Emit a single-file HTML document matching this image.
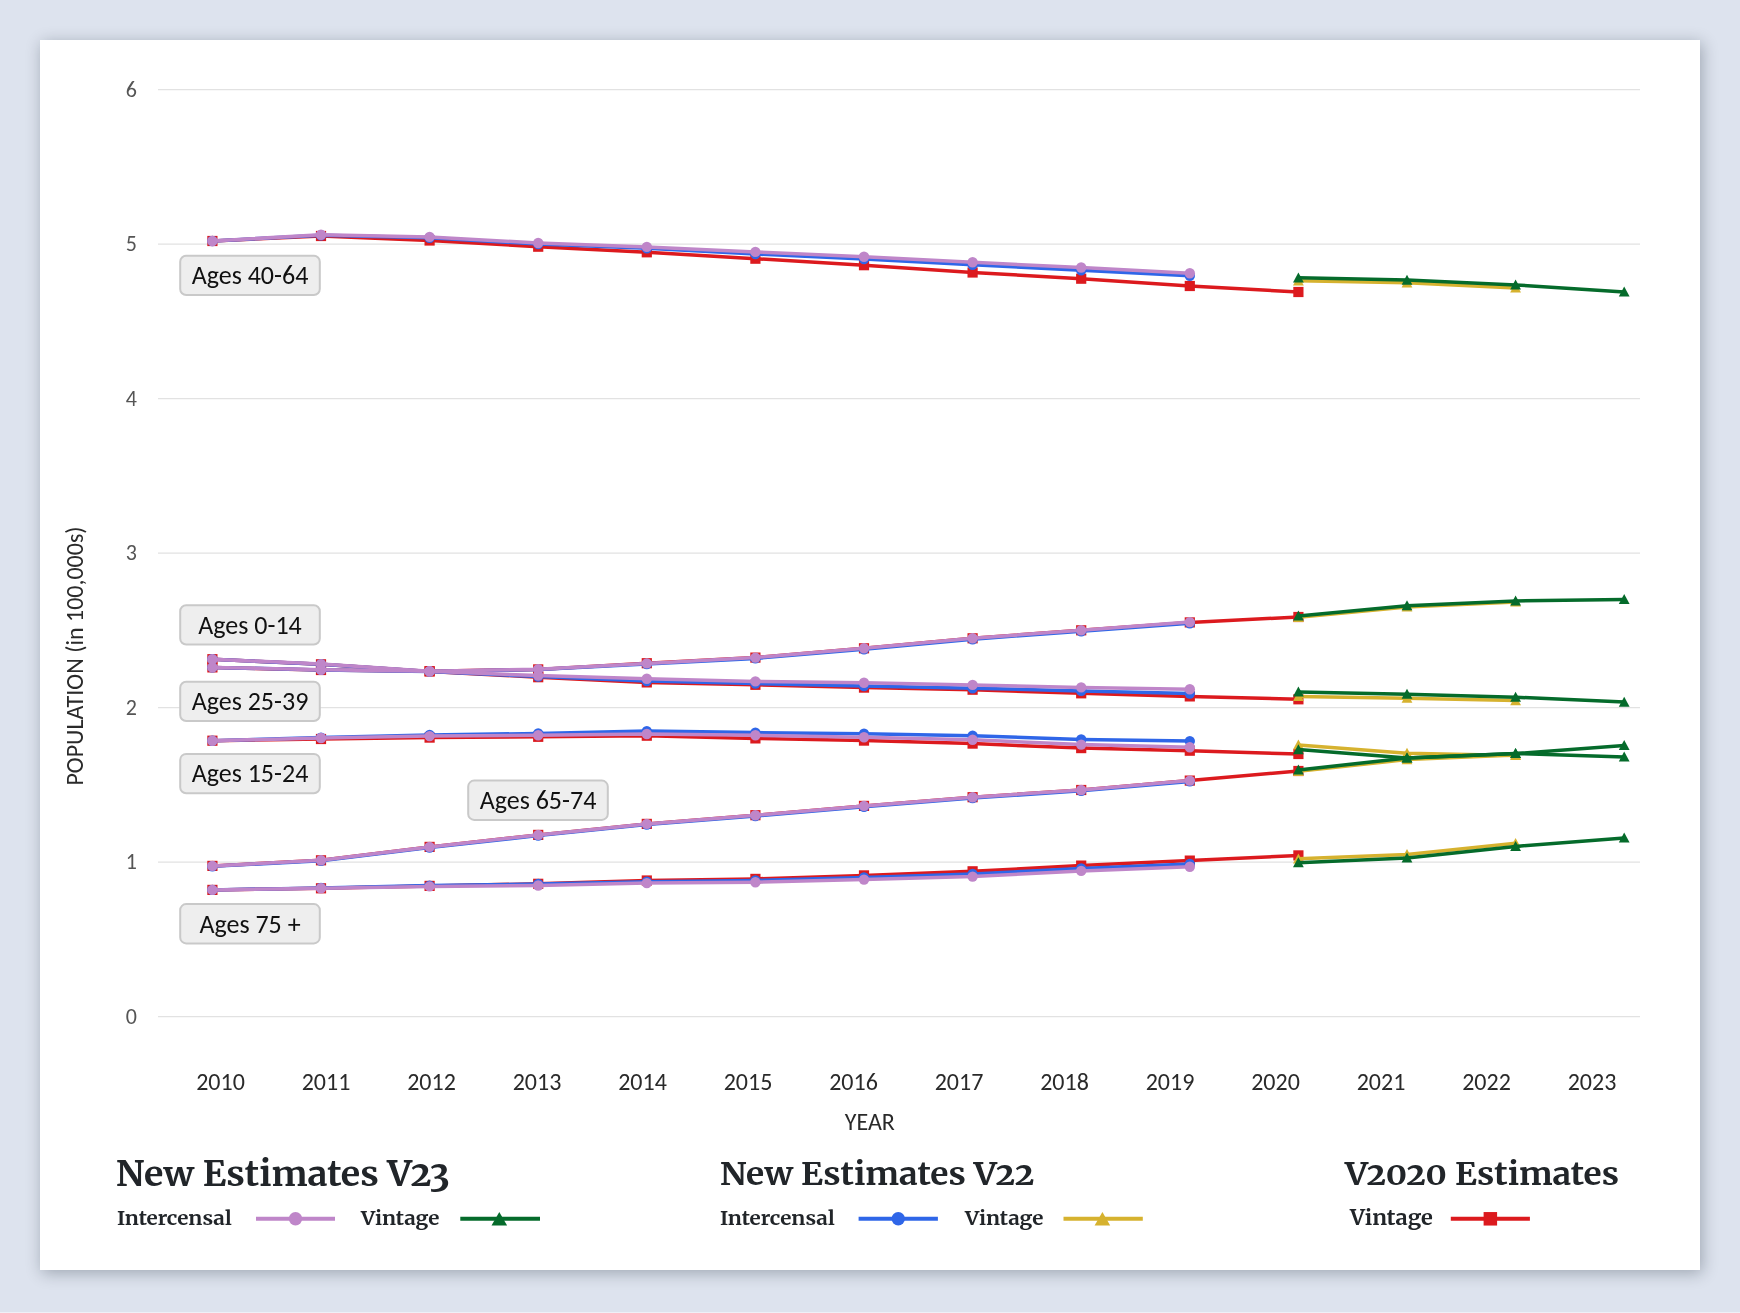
<!DOCTYPE html>
<html><head><meta charset="utf-8"><title>Population estimates by age group</title>
<style>
html,body{margin:0;padding:0}
body{width:1740px;height:1313px;background:#dde3ee;position:relative;overflow:hidden}
.card{position:absolute;left:40px;top:40px;width:1660px;height:1230px;background:#fff;box-shadow:2px 3px 15px rgba(11,22,38,.3)}
svg{position:absolute;left:0;top:0;will-change:transform}
.yt{font-family:Carlito,"Liberation Sans",sans-serif;font-size:22px;fill:#555}
.xt{font-family:Carlito,"Liberation Sans",sans-serif;font-size:24px;fill:#2a2a2a}
.lb{font-family:Carlito,"Liberation Sans",sans-serif;font-size:26px;fill:#111}
.h{position:absolute;margin:0;font-family:Merriweather,"Liberation Serif",serif;font-weight:700;color:#212529;white-space:nowrap;font-variant-numeric:oldstyle-nums;transform-origin:0 0;line-height:1;will-change:transform}
.li{position:absolute;margin:0;font-family:Merriweather,"Liberation Serif",serif;font-weight:700;color:#212529;white-space:nowrap;font-size:19.5px;transform-origin:0 0;transform:scaleX(1.058);line-height:1;will-change:transform}
</style></head>
<body>
<div class="card"></div>
<div style="position:absolute;left:0;top:1312px;width:1740px;height:1px;background:#eef0f7"></div>
<svg width="1740" height="1313" viewBox="0 0 1740 1313">
<line x1="158" x2="1640" y1="1016.55" y2="1016.55" stroke="#e2e2e2" stroke-width="1.2"/>
<text x="137" y="1023.85" text-anchor="end" class="yt">0</text>
<line x1="158" x2="1640" y1="862.06" y2="862.06" stroke="#e2e2e2" stroke-width="1.2"/>
<text x="137" y="869.36" text-anchor="end" class="yt">1</text>
<line x1="158" x2="1640" y1="707.57" y2="707.57" stroke="#e2e2e2" stroke-width="1.2"/>
<text x="137" y="714.87" text-anchor="end" class="yt">2</text>
<line x1="158" x2="1640" y1="553.08" y2="553.08" stroke="#e2e2e2" stroke-width="1.2"/>
<text x="137" y="560.38" text-anchor="end" class="yt">3</text>
<line x1="158" x2="1640" y1="398.59" y2="398.59" stroke="#e2e2e2" stroke-width="1.2"/>
<text x="137" y="405.89" text-anchor="end" class="yt">4</text>
<line x1="158" x2="1640" y1="244.1" y2="244.1" stroke="#e2e2e2" stroke-width="1.2"/>
<text x="137" y="251.4" text-anchor="end" class="yt">5</text>
<line x1="158" x2="1640" y1="89.61" y2="89.61" stroke="#e2e2e2" stroke-width="1.2"/>
<text x="137" y="96.91" text-anchor="end" class="yt">6</text>
<text x="220.5" y="1089.8" text-anchor="middle" class="xt">2010</text>
<text x="326" y="1089.8" text-anchor="middle" class="xt">2011</text>
<text x="431.5" y="1089.8" text-anchor="middle" class="xt">2012</text>
<text x="537" y="1089.8" text-anchor="middle" class="xt">2013</text>
<text x="642.5" y="1089.8" text-anchor="middle" class="xt">2014</text>
<text x="748" y="1089.8" text-anchor="middle" class="xt">2015</text>
<text x="853.5" y="1089.8" text-anchor="middle" class="xt">2016</text>
<text x="959" y="1089.8" text-anchor="middle" class="xt">2017</text>
<text x="1064.5" y="1089.8" text-anchor="middle" class="xt">2018</text>
<text x="1170" y="1089.8" text-anchor="middle" class="xt">2019</text>
<text x="1275.5" y="1089.8" text-anchor="middle" class="xt">2020</text>
<text x="1381" y="1089.8" text-anchor="middle" class="xt">2021</text>
<text x="1486.5" y="1089.8" text-anchor="middle" class="xt">2022</text>
<text x="1592" y="1089.8" text-anchor="middle" class="xt">2023</text>
<text x="869.8" y="1129.8" text-anchor="middle" class="xt">YEAR</text>
<text transform="translate(83,656) rotate(-90)" text-anchor="middle" class="xt">POPULATION (in 100,000s)</text>
<polyline points="212.4,241 321,236 429.6,240.5 538.2,246.7 646.8,252.3 755.4,258.7 864,265.2 972.6,272.5 1081.2,278.7 1189.8,286 1298.4,292" fill="none" stroke="#dc1a1e" stroke-width="3.5" stroke-linejoin="round"/>
<rect x="207.3" y="235.9" width="10.2" height="10.2" fill="#dc1a1e"/>
<rect x="315.9" y="230.9" width="10.2" height="10.2" fill="#dc1a1e"/>
<rect x="424.5" y="235.4" width="10.2" height="10.2" fill="#dc1a1e"/>
<rect x="533.1" y="241.6" width="10.2" height="10.2" fill="#dc1a1e"/>
<rect x="641.7" y="247.2" width="10.2" height="10.2" fill="#dc1a1e"/>
<rect x="750.3" y="253.6" width="10.2" height="10.2" fill="#dc1a1e"/>
<rect x="858.9" y="260.1" width="10.2" height="10.2" fill="#dc1a1e"/>
<rect x="967.5" y="267.4" width="10.2" height="10.2" fill="#dc1a1e"/>
<rect x="1076.1" y="273.6" width="10.2" height="10.2" fill="#dc1a1e"/>
<rect x="1184.7" y="280.9" width="10.2" height="10.2" fill="#dc1a1e"/>
<rect x="1293.3" y="286.9" width="10.2" height="10.2" fill="#dc1a1e"/>
<polyline points="212.4,667.4 321,670 429.6,671.2 538.2,669.4 646.8,663.2 755.4,657.6 864,648.3 972.6,638.3 1081.2,630.3 1189.8,622.4 1298.4,617" fill="none" stroke="#dc1a1e" stroke-width="3.5" stroke-linejoin="round"/>
<rect x="207.3" y="662.3" width="10.2" height="10.2" fill="#dc1a1e"/>
<rect x="315.9" y="664.9" width="10.2" height="10.2" fill="#dc1a1e"/>
<rect x="424.5" y="666.1" width="10.2" height="10.2" fill="#dc1a1e"/>
<rect x="533.1" y="664.3" width="10.2" height="10.2" fill="#dc1a1e"/>
<rect x="641.7" y="658.1" width="10.2" height="10.2" fill="#dc1a1e"/>
<rect x="750.3" y="652.5" width="10.2" height="10.2" fill="#dc1a1e"/>
<rect x="858.9" y="643.2" width="10.2" height="10.2" fill="#dc1a1e"/>
<rect x="967.5" y="633.2" width="10.2" height="10.2" fill="#dc1a1e"/>
<rect x="1076.1" y="625.2" width="10.2" height="10.2" fill="#dc1a1e"/>
<rect x="1184.7" y="617.3" width="10.2" height="10.2" fill="#dc1a1e"/>
<rect x="1293.3" y="611.9" width="10.2" height="10.2" fill="#dc1a1e"/>
<polyline points="212.4,659.2 321,664.3 429.6,671.4 538.2,677.2 646.8,682.4 755.4,684.8 864,687.6 972.6,689.7 1081.2,693.3 1189.8,696.4 1298.4,699.3" fill="none" stroke="#dc1a1e" stroke-width="3.5" stroke-linejoin="round"/>
<rect x="207.3" y="654.1" width="10.2" height="10.2" fill="#dc1a1e"/>
<rect x="315.9" y="659.2" width="10.2" height="10.2" fill="#dc1a1e"/>
<rect x="424.5" y="666.3" width="10.2" height="10.2" fill="#dc1a1e"/>
<rect x="533.1" y="672.1" width="10.2" height="10.2" fill="#dc1a1e"/>
<rect x="641.7" y="677.3" width="10.2" height="10.2" fill="#dc1a1e"/>
<rect x="750.3" y="679.7" width="10.2" height="10.2" fill="#dc1a1e"/>
<rect x="858.9" y="682.5" width="10.2" height="10.2" fill="#dc1a1e"/>
<rect x="967.5" y="684.6" width="10.2" height="10.2" fill="#dc1a1e"/>
<rect x="1076.1" y="688.2" width="10.2" height="10.2" fill="#dc1a1e"/>
<rect x="1184.7" y="691.3" width="10.2" height="10.2" fill="#dc1a1e"/>
<rect x="1293.3" y="694.2" width="10.2" height="10.2" fill="#dc1a1e"/>
<polyline points="212.4,740.7 321,739 429.6,737.6 538.2,736.8 646.8,735.7 755.4,738.4 864,740.6 972.6,743.6 1081.2,748.1 1189.8,750.7 1298.4,754" fill="none" stroke="#dc1a1e" stroke-width="3.5" stroke-linejoin="round"/>
<rect x="207.3" y="735.6" width="10.2" height="10.2" fill="#dc1a1e"/>
<rect x="315.9" y="733.9" width="10.2" height="10.2" fill="#dc1a1e"/>
<rect x="424.5" y="732.5" width="10.2" height="10.2" fill="#dc1a1e"/>
<rect x="533.1" y="731.7" width="10.2" height="10.2" fill="#dc1a1e"/>
<rect x="641.7" y="730.6" width="10.2" height="10.2" fill="#dc1a1e"/>
<rect x="750.3" y="733.3" width="10.2" height="10.2" fill="#dc1a1e"/>
<rect x="858.9" y="735.5" width="10.2" height="10.2" fill="#dc1a1e"/>
<rect x="967.5" y="738.5" width="10.2" height="10.2" fill="#dc1a1e"/>
<rect x="1076.1" y="743" width="10.2" height="10.2" fill="#dc1a1e"/>
<rect x="1184.7" y="745.6" width="10.2" height="10.2" fill="#dc1a1e"/>
<rect x="1293.3" y="748.9" width="10.2" height="10.2" fill="#dc1a1e"/>
<polyline points="212.4,865.9 321,860.3 429.6,846.9 538.2,834.9 646.8,823.9 755.4,815.2 864,805.9 972.6,797.2 1081.2,790 1189.8,780.6 1298.4,771" fill="none" stroke="#dc1a1e" stroke-width="3.5" stroke-linejoin="round"/>
<rect x="207.3" y="860.8" width="10.2" height="10.2" fill="#dc1a1e"/>
<rect x="315.9" y="855.2" width="10.2" height="10.2" fill="#dc1a1e"/>
<rect x="424.5" y="841.8" width="10.2" height="10.2" fill="#dc1a1e"/>
<rect x="533.1" y="829.8" width="10.2" height="10.2" fill="#dc1a1e"/>
<rect x="641.7" y="818.8" width="10.2" height="10.2" fill="#dc1a1e"/>
<rect x="750.3" y="810.1" width="10.2" height="10.2" fill="#dc1a1e"/>
<rect x="858.9" y="800.8" width="10.2" height="10.2" fill="#dc1a1e"/>
<rect x="967.5" y="792.1" width="10.2" height="10.2" fill="#dc1a1e"/>
<rect x="1076.1" y="784.9" width="10.2" height="10.2" fill="#dc1a1e"/>
<rect x="1184.7" y="775.5" width="10.2" height="10.2" fill="#dc1a1e"/>
<rect x="1293.3" y="765.9" width="10.2" height="10.2" fill="#dc1a1e"/>
<polyline points="212.4,889.9 321,888.3 429.6,885.9 538.2,883.8 646.8,880.5 755.4,878.9 864,875.4 972.6,871.3 1081.2,865.6 1189.8,860.6 1298.4,855.4" fill="none" stroke="#dc1a1e" stroke-width="3.5" stroke-linejoin="round"/>
<rect x="207.3" y="884.8" width="10.2" height="10.2" fill="#dc1a1e"/>
<rect x="315.9" y="883.2" width="10.2" height="10.2" fill="#dc1a1e"/>
<rect x="424.5" y="880.8" width="10.2" height="10.2" fill="#dc1a1e"/>
<rect x="533.1" y="878.7" width="10.2" height="10.2" fill="#dc1a1e"/>
<rect x="641.7" y="875.4" width="10.2" height="10.2" fill="#dc1a1e"/>
<rect x="750.3" y="873.8" width="10.2" height="10.2" fill="#dc1a1e"/>
<rect x="858.9" y="870.3" width="10.2" height="10.2" fill="#dc1a1e"/>
<rect x="967.5" y="866.2" width="10.2" height="10.2" fill="#dc1a1e"/>
<rect x="1076.1" y="860.5" width="10.2" height="10.2" fill="#dc1a1e"/>
<rect x="1184.7" y="855.5" width="10.2" height="10.2" fill="#dc1a1e"/>
<rect x="1293.3" y="850.3" width="10.2" height="10.2" fill="#dc1a1e"/>
<polyline points="1298.4,280.8 1407,282.8 1515.6,288" fill="none" stroke="#d6b22f" stroke-width="3.5" stroke-linejoin="round"/>
<path d="M1298.4 275.4L1303.8 285.4L1293 285.4Z" fill="#d6b22f"/>
<path d="M1407 277.4L1412.4 287.4L1401.6 287.4Z" fill="#d6b22f"/>
<path d="M1515.6 282.6L1521 292.6L1510.2 292.6Z" fill="#d6b22f"/>
<polyline points="1298.4,617.3 1407,607 1515.6,602" fill="none" stroke="#d6b22f" stroke-width="3.5" stroke-linejoin="round"/>
<path d="M1298.4 611.9L1303.8 621.9L1293 621.9Z" fill="#d6b22f"/>
<path d="M1407 601.6L1412.4 611.6L1401.6 611.6Z" fill="#d6b22f"/>
<path d="M1515.6 596.6L1521 606.6L1510.2 606.6Z" fill="#d6b22f"/>
<polyline points="1298.4,696.5 1407,698.2 1515.6,700.6" fill="none" stroke="#d6b22f" stroke-width="3.5" stroke-linejoin="round"/>
<path d="M1298.4 691.1L1303.8 701.1L1293 701.1Z" fill="#d6b22f"/>
<path d="M1407 692.8L1412.4 702.8L1401.6 702.8Z" fill="#d6b22f"/>
<path d="M1515.6 695.2L1521 705.2L1510.2 705.2Z" fill="#d6b22f"/>
<polyline points="1298.4,745 1407,753.2 1515.6,755.5" fill="none" stroke="#d6b22f" stroke-width="3.5" stroke-linejoin="round"/>
<path d="M1298.4 739.6L1303.8 749.6L1293 749.6Z" fill="#d6b22f"/>
<path d="M1407 747.8L1412.4 757.8L1401.6 757.8Z" fill="#d6b22f"/>
<path d="M1515.6 750.1L1521 760.1L1510.2 760.1Z" fill="#d6b22f"/>
<polyline points="1298.4,771.3 1407,759.6 1515.6,755" fill="none" stroke="#d6b22f" stroke-width="3.5" stroke-linejoin="round"/>
<path d="M1298.4 765.9L1303.8 775.9L1293 775.9Z" fill="#d6b22f"/>
<path d="M1407 754.2L1412.4 764.2L1401.6 764.2Z" fill="#d6b22f"/>
<path d="M1515.6 749.6L1521 759.6L1510.2 759.6Z" fill="#d6b22f"/>
<polyline points="1298.4,858.8 1407,854.4 1515.6,843.3" fill="none" stroke="#d6b22f" stroke-width="3.5" stroke-linejoin="round"/>
<path d="M1298.4 853.4L1303.8 863.4L1293 863.4Z" fill="#d6b22f"/>
<path d="M1407 849L1412.4 859L1401.6 859Z" fill="#d6b22f"/>
<path d="M1515.6 837.9L1521 847.9L1510.2 847.9Z" fill="#d6b22f"/>
<polyline points="212.4,241 321,235.2 429.6,237.8 538.2,244 646.8,248.2 755.4,254 864,259 972.6,264.8 1081.2,270.2 1189.8,275.8" fill="none" stroke="#2f66e8" stroke-width="3.5" stroke-linejoin="round"/>
<circle cx="212.4" cy="241" r="5.2" fill="#2f66e8"/>
<circle cx="321" cy="235.2" r="5.2" fill="#2f66e8"/>
<circle cx="429.6" cy="237.8" r="5.2" fill="#2f66e8"/>
<circle cx="538.2" cy="244" r="5.2" fill="#2f66e8"/>
<circle cx="646.8" cy="248.2" r="5.2" fill="#2f66e8"/>
<circle cx="755.4" cy="254" r="5.2" fill="#2f66e8"/>
<circle cx="864" cy="259" r="5.2" fill="#2f66e8"/>
<circle cx="972.6" cy="264.8" r="5.2" fill="#2f66e8"/>
<circle cx="1081.2" cy="270.2" r="5.2" fill="#2f66e8"/>
<circle cx="1189.8" cy="275.8" r="5.2" fill="#2f66e8"/>
<polyline points="212.4,667.4 321,669.9 429.6,671.4 538.2,669.6 646.8,664 755.4,658.4 864,649.2 972.6,639.2 1081.2,631.2 1189.8,623.2" fill="none" stroke="#2f66e8" stroke-width="3.5" stroke-linejoin="round"/>
<circle cx="212.4" cy="667.4" r="5.2" fill="#2f66e8"/>
<circle cx="321" cy="669.9" r="5.2" fill="#2f66e8"/>
<circle cx="429.6" cy="671.4" r="5.2" fill="#2f66e8"/>
<circle cx="538.2" cy="669.6" r="5.2" fill="#2f66e8"/>
<circle cx="646.8" cy="664" r="5.2" fill="#2f66e8"/>
<circle cx="755.4" cy="658.4" r="5.2" fill="#2f66e8"/>
<circle cx="864" cy="649.2" r="5.2" fill="#2f66e8"/>
<circle cx="972.6" cy="639.2" r="5.2" fill="#2f66e8"/>
<circle cx="1081.2" cy="631.2" r="5.2" fill="#2f66e8"/>
<circle cx="1189.8" cy="623.2" r="5.2" fill="#2f66e8"/>
<polyline points="212.4,659.2 321,664.3 429.6,671.4 538.2,676.6 646.8,681 755.4,683.5 864,686 972.6,688.2 1081.2,690.9 1189.8,693.5" fill="none" stroke="#2f66e8" stroke-width="3.5" stroke-linejoin="round"/>
<circle cx="212.4" cy="659.2" r="5.2" fill="#2f66e8"/>
<circle cx="321" cy="664.3" r="5.2" fill="#2f66e8"/>
<circle cx="429.6" cy="671.4" r="5.2" fill="#2f66e8"/>
<circle cx="538.2" cy="676.6" r="5.2" fill="#2f66e8"/>
<circle cx="646.8" cy="681" r="5.2" fill="#2f66e8"/>
<circle cx="755.4" cy="683.5" r="5.2" fill="#2f66e8"/>
<circle cx="864" cy="686" r="5.2" fill="#2f66e8"/>
<circle cx="972.6" cy="688.2" r="5.2" fill="#2f66e8"/>
<circle cx="1081.2" cy="690.9" r="5.2" fill="#2f66e8"/>
<circle cx="1189.8" cy="693.5" r="5.2" fill="#2f66e8"/>
<polyline points="212.4,740.7 321,737.6 429.6,734.9 538.2,733.5 646.8,731.1 755.4,732.6 864,733.8 972.6,735.7 1081.2,739.4 1189.8,741.1" fill="none" stroke="#2f66e8" stroke-width="3.5" stroke-linejoin="round"/>
<circle cx="212.4" cy="740.7" r="5.2" fill="#2f66e8"/>
<circle cx="321" cy="737.6" r="5.2" fill="#2f66e8"/>
<circle cx="429.6" cy="734.9" r="5.2" fill="#2f66e8"/>
<circle cx="538.2" cy="733.5" r="5.2" fill="#2f66e8"/>
<circle cx="646.8" cy="731.1" r="5.2" fill="#2f66e8"/>
<circle cx="755.4" cy="732.6" r="5.2" fill="#2f66e8"/>
<circle cx="864" cy="733.8" r="5.2" fill="#2f66e8"/>
<circle cx="972.6" cy="735.7" r="5.2" fill="#2f66e8"/>
<circle cx="1081.2" cy="739.4" r="5.2" fill="#2f66e8"/>
<circle cx="1189.8" cy="741.1" r="5.2" fill="#2f66e8"/>
<polyline points="212.4,866.2 321,860.8 429.6,847.5 538.2,835.6 646.8,824.6 755.4,816 864,806.8 972.6,798 1081.2,790.8 1189.8,781.4" fill="none" stroke="#2f66e8" stroke-width="3.5" stroke-linejoin="round"/>
<circle cx="212.4" cy="866.2" r="5.2" fill="#2f66e8"/>
<circle cx="321" cy="860.8" r="5.2" fill="#2f66e8"/>
<circle cx="429.6" cy="847.5" r="5.2" fill="#2f66e8"/>
<circle cx="538.2" cy="835.6" r="5.2" fill="#2f66e8"/>
<circle cx="646.8" cy="824.6" r="5.2" fill="#2f66e8"/>
<circle cx="755.4" cy="816" r="5.2" fill="#2f66e8"/>
<circle cx="864" cy="806.8" r="5.2" fill="#2f66e8"/>
<circle cx="972.6" cy="798" r="5.2" fill="#2f66e8"/>
<circle cx="1081.2" cy="790.8" r="5.2" fill="#2f66e8"/>
<circle cx="1189.8" cy="781.4" r="5.2" fill="#2f66e8"/>
<polyline points="212.4,889.9 321,887.9 429.6,885.6 538.2,884 646.8,881.8 755.4,880.4 864,877.4 972.6,874 1081.2,868.5 1189.8,864" fill="none" stroke="#2f66e8" stroke-width="3.5" stroke-linejoin="round"/>
<circle cx="212.4" cy="889.9" r="5.2" fill="#2f66e8"/>
<circle cx="321" cy="887.9" r="5.2" fill="#2f66e8"/>
<circle cx="429.6" cy="885.6" r="5.2" fill="#2f66e8"/>
<circle cx="538.2" cy="884" r="5.2" fill="#2f66e8"/>
<circle cx="646.8" cy="881.8" r="5.2" fill="#2f66e8"/>
<circle cx="755.4" cy="880.4" r="5.2" fill="#2f66e8"/>
<circle cx="864" cy="877.4" r="5.2" fill="#2f66e8"/>
<circle cx="972.6" cy="874" r="5.2" fill="#2f66e8"/>
<circle cx="1081.2" cy="868.5" r="5.2" fill="#2f66e8"/>
<circle cx="1189.8" cy="864" r="5.2" fill="#2f66e8"/>
<polyline points="1298.4,277.8 1407,280.1 1515.6,284.9 1624.2,292" fill="none" stroke="#056b2b" stroke-width="3.5" stroke-linejoin="round"/>
<path d="M1298.4 272.4L1303.8 282.4L1293 282.4Z" fill="#056b2b"/>
<path d="M1407 274.7L1412.4 284.7L1401.6 284.7Z" fill="#056b2b"/>
<path d="M1515.6 279.5L1521 289.5L1510.2 289.5Z" fill="#056b2b"/>
<path d="M1624.2 286.6L1629.6 296.6L1618.8 296.6Z" fill="#056b2b"/>
<polyline points="1298.4,616 1407,605.7 1515.6,600.9 1624.2,599.5" fill="none" stroke="#056b2b" stroke-width="3.5" stroke-linejoin="round"/>
<path d="M1298.4 610.6L1303.8 620.6L1293 620.6Z" fill="#056b2b"/>
<path d="M1407 600.3L1412.4 610.3L1401.6 610.3Z" fill="#056b2b"/>
<path d="M1515.6 595.5L1521 605.5L1510.2 605.5Z" fill="#056b2b"/>
<path d="M1624.2 594.1L1629.6 604.1L1618.8 604.1Z" fill="#056b2b"/>
<polyline points="1298.4,692 1407,694.2 1515.6,697.2 1624.2,702.1" fill="none" stroke="#056b2b" stroke-width="3.5" stroke-linejoin="round"/>
<path d="M1298.4 686.6L1303.8 696.6L1293 696.6Z" fill="#056b2b"/>
<path d="M1407 688.8L1412.4 698.8L1401.6 698.8Z" fill="#056b2b"/>
<path d="M1515.6 691.8L1521 701.8L1510.2 701.8Z" fill="#056b2b"/>
<path d="M1624.2 696.7L1629.6 706.7L1618.8 706.7Z" fill="#056b2b"/>
<polyline points="1298.4,749.6 1407,758 1515.6,753.5 1624.2,757" fill="none" stroke="#056b2b" stroke-width="3.5" stroke-linejoin="round"/>
<path d="M1298.4 744.2L1303.8 754.2L1293 754.2Z" fill="#056b2b"/>
<path d="M1407 752.6L1412.4 762.6L1401.6 762.6Z" fill="#056b2b"/>
<path d="M1515.6 748.1L1521 758.1L1510.2 758.1Z" fill="#056b2b"/>
<path d="M1624.2 751.6L1629.6 761.6L1618.8 761.6Z" fill="#056b2b"/>
<polyline points="1298.4,770 1407,758 1515.6,753.5 1624.2,745.5" fill="none" stroke="#056b2b" stroke-width="3.5" stroke-linejoin="round"/>
<path d="M1298.4 764.6L1303.8 774.6L1293 774.6Z" fill="#056b2b"/>
<path d="M1407 752.6L1412.4 762.6L1401.6 762.6Z" fill="#056b2b"/>
<path d="M1515.6 748.1L1521 758.1L1510.2 758.1Z" fill="#056b2b"/>
<path d="M1624.2 740.1L1629.6 750.1L1618.8 750.1Z" fill="#056b2b"/>
<polyline points="1298.4,862.7 1407,858 1515.6,846.4 1624.2,838" fill="none" stroke="#056b2b" stroke-width="3.5" stroke-linejoin="round"/>
<path d="M1298.4 857.3L1303.8 867.3L1293 867.3Z" fill="#056b2b"/>
<path d="M1407 852.6L1412.4 862.6L1401.6 862.6Z" fill="#056b2b"/>
<path d="M1515.6 841L1521 851L1510.2 851Z" fill="#056b2b"/>
<path d="M1624.2 832.6L1629.6 842.6L1618.8 842.6Z" fill="#056b2b"/>
<polyline points="212.4,241 321,234.8 429.6,236.9 538.2,243 646.8,246.9 755.4,251.9 864,256.8 972.6,262.3 1081.2,267.5 1189.8,273.3" fill="none" stroke="#bf86c9" stroke-width="3.5" stroke-linejoin="round"/>
<circle cx="212.4" cy="241" r="5.2" fill="#bf86c9"/>
<circle cx="321" cy="234.8" r="5.2" fill="#bf86c9"/>
<circle cx="429.6" cy="236.9" r="5.2" fill="#bf86c9"/>
<circle cx="538.2" cy="243" r="5.2" fill="#bf86c9"/>
<circle cx="646.8" cy="246.9" r="5.2" fill="#bf86c9"/>
<circle cx="755.4" cy="251.9" r="5.2" fill="#bf86c9"/>
<circle cx="864" cy="256.8" r="5.2" fill="#bf86c9"/>
<circle cx="972.6" cy="262.3" r="5.2" fill="#bf86c9"/>
<circle cx="1081.2" cy="267.5" r="5.2" fill="#bf86c9"/>
<circle cx="1189.8" cy="273.3" r="5.2" fill="#bf86c9"/>
<polyline points="212.4,667.4 321,669.7 429.6,671.2 538.2,669.2 646.8,663.4 755.4,657.6 864,648.3 972.6,638.3 1081.2,630.2 1189.8,622.1" fill="none" stroke="#bf86c9" stroke-width="3.5" stroke-linejoin="round"/>
<circle cx="212.4" cy="667.4" r="5.2" fill="#bf86c9"/>
<circle cx="321" cy="669.7" r="5.2" fill="#bf86c9"/>
<circle cx="429.6" cy="671.2" r="5.2" fill="#bf86c9"/>
<circle cx="538.2" cy="669.2" r="5.2" fill="#bf86c9"/>
<circle cx="646.8" cy="663.4" r="5.2" fill="#bf86c9"/>
<circle cx="755.4" cy="657.6" r="5.2" fill="#bf86c9"/>
<circle cx="864" cy="648.3" r="5.2" fill="#bf86c9"/>
<circle cx="972.6" cy="638.3" r="5.2" fill="#bf86c9"/>
<circle cx="1081.2" cy="630.2" r="5.2" fill="#bf86c9"/>
<circle cx="1189.8" cy="622.1" r="5.2" fill="#bf86c9"/>
<polyline points="212.4,659.2 321,664.1 429.6,671.2 538.2,675.6 646.8,678.7 755.4,681.4 864,682.8 972.6,684.9 1081.2,687.4 1189.8,689.2" fill="none" stroke="#bf86c9" stroke-width="3.5" stroke-linejoin="round"/>
<circle cx="212.4" cy="659.2" r="5.2" fill="#bf86c9"/>
<circle cx="321" cy="664.1" r="5.2" fill="#bf86c9"/>
<circle cx="429.6" cy="671.2" r="5.2" fill="#bf86c9"/>
<circle cx="538.2" cy="675.6" r="5.2" fill="#bf86c9"/>
<circle cx="646.8" cy="678.7" r="5.2" fill="#bf86c9"/>
<circle cx="755.4" cy="681.4" r="5.2" fill="#bf86c9"/>
<circle cx="864" cy="682.8" r="5.2" fill="#bf86c9"/>
<circle cx="972.6" cy="684.9" r="5.2" fill="#bf86c9"/>
<circle cx="1081.2" cy="687.4" r="5.2" fill="#bf86c9"/>
<circle cx="1189.8" cy="689.2" r="5.2" fill="#bf86c9"/>
<polyline points="212.4,740.7 321,738 429.6,736.1 538.2,735.3 646.8,734 755.4,735.3 864,737.2 972.6,739.8 1081.2,744.6 1189.8,747.2" fill="none" stroke="#bf86c9" stroke-width="3.5" stroke-linejoin="round"/>
<circle cx="212.4" cy="740.7" r="5.2" fill="#bf86c9"/>
<circle cx="321" cy="738" r="5.2" fill="#bf86c9"/>
<circle cx="429.6" cy="736.1" r="5.2" fill="#bf86c9"/>
<circle cx="538.2" cy="735.3" r="5.2" fill="#bf86c9"/>
<circle cx="646.8" cy="734" r="5.2" fill="#bf86c9"/>
<circle cx="755.4" cy="735.3" r="5.2" fill="#bf86c9"/>
<circle cx="864" cy="737.2" r="5.2" fill="#bf86c9"/>
<circle cx="972.6" cy="739.8" r="5.2" fill="#bf86c9"/>
<circle cx="1081.2" cy="744.6" r="5.2" fill="#bf86c9"/>
<circle cx="1189.8" cy="747.2" r="5.2" fill="#bf86c9"/>
<polyline points="212.4,865.9 321,860.3 429.6,846.9 538.2,834.9 646.8,823.9 755.4,815.2 864,805.9 972.6,797.2 1081.2,790 1189.8,780.6" fill="none" stroke="#bf86c9" stroke-width="3.5" stroke-linejoin="round"/>
<circle cx="212.4" cy="865.9" r="5.2" fill="#bf86c9"/>
<circle cx="321" cy="860.3" r="5.2" fill="#bf86c9"/>
<circle cx="429.6" cy="846.9" r="5.2" fill="#bf86c9"/>
<circle cx="538.2" cy="834.9" r="5.2" fill="#bf86c9"/>
<circle cx="646.8" cy="823.9" r="5.2" fill="#bf86c9"/>
<circle cx="755.4" cy="815.2" r="5.2" fill="#bf86c9"/>
<circle cx="864" cy="805.9" r="5.2" fill="#bf86c9"/>
<circle cx="972.6" cy="797.2" r="5.2" fill="#bf86c9"/>
<circle cx="1081.2" cy="790" r="5.2" fill="#bf86c9"/>
<circle cx="1189.8" cy="780.6" r="5.2" fill="#bf86c9"/>
<polyline points="212.4,889.9 321,888.2 429.6,886.4 538.2,885.5 646.8,883.1 755.4,882.2 864,879.6 972.6,876.6 1081.2,870.9 1189.8,866.8" fill="none" stroke="#bf86c9" stroke-width="3.5" stroke-linejoin="round"/>
<circle cx="212.4" cy="889.9" r="5.2" fill="#bf86c9"/>
<circle cx="321" cy="888.2" r="5.2" fill="#bf86c9"/>
<circle cx="429.6" cy="886.4" r="5.2" fill="#bf86c9"/>
<circle cx="538.2" cy="885.5" r="5.2" fill="#bf86c9"/>
<circle cx="646.8" cy="883.1" r="5.2" fill="#bf86c9"/>
<circle cx="755.4" cy="882.2" r="5.2" fill="#bf86c9"/>
<circle cx="864" cy="879.6" r="5.2" fill="#bf86c9"/>
<circle cx="972.6" cy="876.6" r="5.2" fill="#bf86c9"/>
<circle cx="1081.2" cy="870.9" r="5.2" fill="#bf86c9"/>
<circle cx="1189.8" cy="866.8" r="5.2" fill="#bf86c9"/>
<rect x="180.2" y="255.7" width="139.6" height="39.3" rx="6" fill="#eeeeee" stroke="#c9c9c9" stroke-width="2"/>
<text x="250" y="284.1" text-anchor="middle" class="lb">Ages 40-64</text>
<rect x="180.2" y="605.2" width="139.6" height="39.3" rx="6" fill="#eeeeee" stroke="#c9c9c9" stroke-width="2"/>
<text x="250" y="633.6" text-anchor="middle" class="lb">Ages 0-14</text>
<rect x="180.2" y="681.7" width="139.6" height="39.3" rx="6" fill="#eeeeee" stroke="#c9c9c9" stroke-width="2"/>
<text x="250" y="710.1" text-anchor="middle" class="lb">Ages 25-39</text>
<rect x="180.2" y="753.9" width="139.6" height="39.3" rx="6" fill="#eeeeee" stroke="#c9c9c9" stroke-width="2"/>
<text x="250" y="782.3" text-anchor="middle" class="lb">Ages 15-24</text>
<rect x="468.2" y="780.6" width="139.6" height="39.3" rx="6" fill="#eeeeee" stroke="#c9c9c9" stroke-width="2"/>
<text x="538" y="809" text-anchor="middle" class="lb">Ages 65-74</text>
<rect x="180.2" y="904.1" width="139.6" height="39.3" rx="6" fill="#eeeeee" stroke="#c9c9c9" stroke-width="2"/>
<text x="250" y="932.5" text-anchor="middle" class="lb">Ages 75 +</text>
<line x1="256" x2="335" y1="1218.8" y2="1218.8" stroke="#bf86c9" stroke-width="4"/><circle cx="295.5" cy="1218.8" r="6.7" fill="#bf86c9"/>
<line x1="460.3" x2="540" y1="1218.8" y2="1218.8" stroke="#056b2b" stroke-width="4"/><path d="M499.3 1212L507.1 1225.6L491.5 1225.6Z" fill="#056b2b"/>
<line x1="858.6" x2="937.9" y1="1218.8" y2="1218.8" stroke="#2f66e8" stroke-width="4"/><circle cx="898.25" cy="1218.8" r="6.7" fill="#2f66e8"/>
<line x1="1063.5" x2="1142.8" y1="1218.8" y2="1218.8" stroke="#d6b22f" stroke-width="4"/><path d="M1102.4 1212L1110.2 1225.6L1094.6 1225.6Z" fill="#d6b22f"/>
<line x1="1450.8" x2="1529.9" y1="1218.8" y2="1218.8" stroke="#dc1a1e" stroke-width="4"/><rect x="1483.6" y="1212.05" width="13.5" height="13.5" fill="#dc1a1e"/>
</svg>
<h2 class="h" id="h1" style="left:116px;top:1156.6px;font-size:34.5px;transform:scaleX(1.039)">New Estimates V23</h2>
<h3 class="h" id="h2" style="left:720px;top:1158.7px;font-size:31.4px;transform:scaleX(1.068)">New Estimates V22</h3>
<h3 class="h" id="h3" style="left:1345px;top:1158.7px;font-size:31.4px;transform:scaleX(1.063)">V2020 Estimates</h3>
<span class="li" style="left:117px;top:1209px">Intercensal</span>
<span class="li" style="left:360.5px;top:1209px">Vintage</span>
<span class="li" style="left:720px;top:1209px">Intercensal</span>
<span class="li" style="left:964.5px;top:1209px">Vintage</span>
<span class="li" style="left:1350.3px;top:1208px;font-size:20.6px">Vintage</span>
</body></html>
